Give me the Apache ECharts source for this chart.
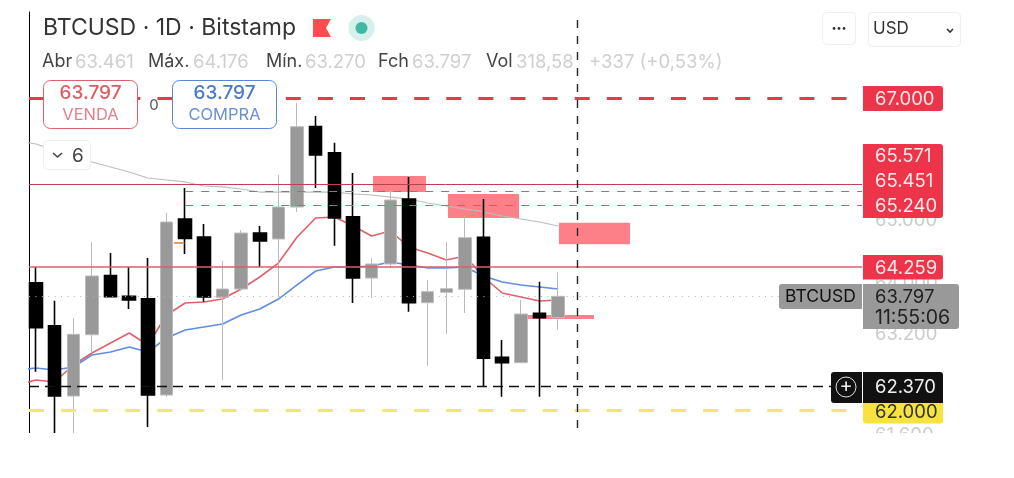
<!DOCTYPE html>
<html>
<head>
<meta charset="utf-8">
<style>
html, body { margin: 0; padding: 0; background: #fff; }
#charts { width: 1014px; height: 478px; }
</style>
<script src="https://cdn.jsdelivr.net/npm/echarts@6/dist/echarts.min.js"></script>
</head>
<body>
<div id="charts"></div>
<script>
var FONT = 'Inter, "Noto Sans", sans-serif';

// candles, one entry per daily bar
var opens  = [64012, 63332, 62221, 63190, 64123, 63797, 63759, 62237, 65019, 64734, 63781, 63912, 64797, 64703, 65208, 66478, 66067, 65055, 64086, 64308, 65335, 63696, 63860, 63908, 64730, 62833, 62748, 63528, 63461];
var closes = [63301, 62221, 63196, 64118, 63791, 63739, 62237, 64971, 64711, 63786, 63912, 64797, 64671, 65208, 66478, 66030, 65035, 64086, 64308, 65319, 63696, 63870, 63917, 64723, 62817, 62748, 63517, 63459, 63797];
var lows   = [62605, 61636, 61636, 62901, 63780, 63596, 61731, 62205, 64466, 63712, 62474, 63881, 64260, 63786, 65129, 65509, 64597, 63691, 63770, 64244, 63554, 62695, 63201, 63533, 62368, 62210, 62748, 62210, 63270];
var highs  = [64260, 63727, 63454, 64655, 64481, 64260, 64402, 65114, 65509, 64940, 64355, 64845, 64908, 65714, 66852, 66647, 66225, 65746, 64402, 65477, 65683, 64055, 64660, 65055, 65335, 63106, 63739, 64028, 64176];

// moving averages, first point is the bar before the visible range
var maGray = [66252, 66204, 66109, 66030, 65920, 65841, 65762, 65667, 65635, 65604, 65540, 65525, 65493, 65445, 65445, 65445, 65445, 65445, 65414, 65398, 65366, 65335, 65272, 65224, 65177, 65129, 65066, 65019, 64971, 64908];
var maRed  = [62395, 62474, 62443, 62711, 62901, 63059, 63217, 63027, 63501, 63691, 63707, 63754, 63912, 64102, 64323, 64734, 65035, 65050, 64908, 64750, 64829, 64576, 64481, 64371, 64434, 64102, 63849, 63786, 63723, 63739];
var maBlue = [62632, 62664, 62632, 62680, 62869, 62917, 62996, 62917, 63138, 63264, 63312, 63359, 63501, 63596, 63754, 63976, 64197, 64260, 64260, 64276, 64339, 64292, 64244, 64244, 64260, 64118, 64023, 63976, 63944, 63912];

// price levels
var level67000 = 66931;
var levelSolid = [65571, 64259];
var levelDashed = [65451, 65240];
var levelLast = 63797;
var levelOrder = 62370;
var levelYellow = 62000;
var crossBar = 29;

// pink zones: from bar, to bar, top price, bottom price
var zones = [
    [18.07, 20.91, 65698, 65445],
    [22.09, 25.9, 65414, 65035],
    [28.04, 31.85, 64960, 64619],
    [26.38, 29.92, 63501, 63438]
];

var axisTicks = [61600, 63200, 64000, 65000];

var stats = [
    ['Abr', 42, '63.461', 75],
    ['Máx.', 148, '64.176', 193],
    ['Mín.', 266, '63.270', 305],
    ['Fch', 378, '63.797', 412],
    ['Vol', 486, '318,58', 516]
];
var change = '+337 (+0,53%)';

var charts = echarts.init(document.getElementById('charts'));

function xyData(values, first) {
    var out = [];
    for (var i = 0; i < values.length; i++) {
        out.push([first + i, values[i]]);
    }
    return out;
}

function candleData() {
    var out = [];
    for (var i = 0; i < opens.length; i++) {
        out.push({
            value: [i, opens[i], closes[i], lows[i], highs[i]],
            itemStyle: { borderWidth: closes[i] > opens[i] ? 1 : 1.6 }
        });
    }
    return out;
}

function maSeries(name, values, color, width) {
    return {
        name: name, type: 'line', z: 3, silent: true, symbol: 'none',
        data: xyData(values, -1),
        lineStyle: { color: color, width: width },
        animation: false
    };
}

function levelLine(value, color, width, type) {
    return { yAxis: value, lineStyle: { color: color, width: width, type: type } };
}

function partLine(from, to, value, color, width, type) {
    return [
        { coord: [from, value], lineStyle: { color: color, width: width, type: type } },
        { coord: [to, value] }
    ];
}

function zoneAreas() {
    var out = [];
    for (var i = 0; i < zones.length; i++) {
        out.push([{ coord: [zones[i][0], zones[i][2]] }, { coord: [zones[i][1], zones[i][3]] }]);
    }
    return out;
}

function box(x, y, w, h, fill, stroke, r) {
    return {
        type: 'rect', silent: true, z: 100,
        shape: { x: x, y: y, width: w, height: h, r: r || 0 },
        style: { fill: fill, stroke: stroke || null, lineWidth: stroke ? 1 : 0 }
    };
}

function label(text, x, y, color, size, weight, align) {
    return {
        type: 'text', silent: true, z: 101,
        style: {
            text: text, x: x, y: y, fill: color, align: align || 'left', verticalAlign: 'middle',
            font: (weight || 400) + ' ' + size + 'px ' + FONT
        }
    };
}

function chevron(x, y, w, h, color, width) {
    return {
        type: 'polyline', silent: true, z: 101,
        shape: { points: [[x, y], [x + w / 2, y + h], [x + w, y]] },
        style: { stroke: color, lineWidth: width, fill: null }
    };
}

function buildGraphic() {
    var red = '#ee3448';
    var g = [];
    // hides whatever runs past the bottom of the chart area
    g.push(box(0, 433, 1014, 45, '#fff'));

    g.push(label('BTCUSD · 1D · Bitstamp', 43, 28, '#333', 23));
    g.push({
        type: 'polygon', silent: true, z: 101,
        shape: { points: [[313, 19], [331, 19], [326, 28], [331, 37], [313, 37]] },
        style: { fill: '#ff4d4d' }
    });
    g.push({ type: 'circle', silent: true, z: 100, shape: { cx: 361.5, cy: 28, r: 13 }, style: { fill: '#d6f0ec' } });
    g.push({ type: 'circle', silent: true, z: 101, shape: { cx: 361.5, cy: 28, r: 6 }, style: { fill: '#3fb8a5' } });

    for (var i = 0; i < stats.length; i++) {
        g.push(label(stats[i][0], stats[i][1], 62, '#444', 18));
        g.push(label(stats[i][2], stats[i][3], 62, '#cfcfcf', 18.5));
    }
    g.push(label(change, 589, 62, '#cfcfcf', 18.5));

    // trade buttons
    g.push(box(43.5, 80.5, 94, 48, '#fff', '#d9626d', 7));
    g.push(label('63.797', 90.5, 93.5, '#df5a64', 19, 500, 'center'));
    g.push(label('VENDA', 90.5, 115, '#e8808a', 16.5, 400, 'center'));
    g.push(box(172.5, 80.5, 104, 48, '#fff', '#5a86d6', 7));
    g.push(label('63.797', 224.5, 93.5, '#4a78cc', 19, 500, 'center'));
    g.push(label('COMPRA', 224.5, 115, '#6a90d8', 16.5, 400, 'center'));
    g.push(label('0', 154, 105, '#555', 15, 400, 'center'));

    g.push(box(43.5, 140.5, 47, 29, '#fff', '#eeeeee', 4));
    g.push(chevron(53, 153, 9, 4, '#444', 1.6));
    g.push(label('6', 72, 156, '#444', 19));

    g.push(box(822.5, 12.5, 33, 32, '#fff', '#eeeeee', 4));
    g.push(label('•••', 839, 28.5, '#333', 9, 400, 'center'));
    g.push(box(868.5, 12.5, 92, 34, '#fff', '#eeeeee', 4));
    g.push(label('USD', 873, 29, '#333', 17));
    g.push(chevron(947, 29, 6, 3, '#333', 1.6));

    // price tags on the right
    g.push(box(863, 86, 80, 25, red, null, [0, 3, 3, 0]));
    g.push(label('67.000', 875, 99, '#ffe9eb', 18.5));
    g.push(box(863, 144, 80, 74, red, null, [0, 3, 3, 0]));
    g.push(label('65.571', 875, 156, '#ffe9eb', 18.5));
    g.push(label('65.451', 875, 181, '#ffe9eb', 18.5));
    g.push(label('65.240', 875, 206, '#ffe9eb', 18.5));
    g.push(box(863, 255, 80, 24.5, red, null, [0, 3, 3, 0]));
    g.push(label('64.259', 875, 268, '#ffe9eb', 18.5));

    g.push(box(779, 284, 83, 25, '#999', null, [3, 0, 0, 3]));
    g.push(label('BTCUSD', 785, 297, '#111', 17.5));
    g.push(box(863, 284, 96, 45, '#999', null, [0, 3, 3, 0]));
    g.push(label('63.797', 875, 297, '#222', 18.5));
    g.push(label('11:55:06', 875, 318, '#222', 19.5));

    g.push(box(831, 372, 31, 31, '#111', null, [3, 0, 0, 3]));
    g.push({ type: 'circle', silent: true, z: 101, shape: { cx: 846, cy: 387, r: 10 }, style: { fill: null, stroke: '#ddd', lineWidth: 1 } });
    g.push(label('+', 846, 386, '#eee', 20, 400, 'center'));
    g.push(box(863, 403, 80, 20.5, '#f7e23f', null, [0, 0, 3, 3]));
    g.push(label('62.000', 875, 412, '#333', 18.5));
    g.push(box(863, 372, 80, 31, '#111', null, [0, 3, 0, 0]));
    g.push(label('62.370', 875, 387.5, '#eee', 18.5));
    return g;
}

var option = {
    backgroundColor: '#fff',
    animation: false,
    grid: { left: 29, right: 152, top: 12, bottom: 33, containLabel: false },
    xAxis: { type: 'value', min: -0.375, max: 44.29, show: false },
    yAxis: [
        {
            type: 'value', min: 61446.8, max: 68290.4, position: 'left', scale: true,
            axisLine: { show: true, onZero: false, lineStyle: { color: '#000', width: 1 } },
            axisTick: { show: false }, axisLabel: { show: false }, splitLine: { show: false }
        },
        {
            type: 'value', min: 61446.8, max: 68290.4, position: 'right', scale: true,
            axisLine: { show: false }, axisTick: { show: false }, splitLine: { show: false },
            axisLabel: {
                customValues: axisTicks, margin: 13, color: '#cccccc',
                fontFamily: FONT, fontSize: 18.5,
                formatter: function (v) { return (v / 1000).toFixed(3); }
            }
        }
    ],
    graphic: { elements: buildGraphic() },
    series: [
        {
            name: 'zones', type: 'line', z: 1, silent: true, symbol: 'none', data: [],
            markArea: { silent: true, itemStyle: { color: '#fd8089', opacity: 1 }, data: zoneAreas(), animation: false }
        },
        {
            name: 'levels', type: 'line', z: 2, silent: true, symbol: 'none', data: [],
            markLine: {
                silent: true, symbol: 'none', label: { show: false }, animation: false,
                data: [
                    levelLine(level67000, '#e23b4b', 3, [15, 17.1]),
                    levelLine(levelYellow, '#f3e66a', 3, [15, 17.1]),
                    levelLine(levelSolid[0], '#bf4150', 1, 'solid'),
                    levelLine(levelSolid[1], '#d9606c', 1.5, 'solid'),
                    levelLine(levelLast, '#b0b0b0', 1, [1, 5.4]),
                    partLine(8, 44.29, levelDashed[0], '#c2606e', 1, [8, 8]),
                    partLine(8, 44.29, levelDashed[1], '#c2606e', 1, [8, 8]),
                    partLine(7.4, 7.95, 64639, '#e0a060', 2, 'solid')
                ]
            }
        },
        maSeries('ma long', maGray, '#bdbdbd', 1.2),
        maSeries('ma fast', maRed, '#e2606c', 1.6),
        maSeries('ma slow', maBlue, '#5f8de0', 1.6),
        {
            name: 'BTCUSD', type: 'candlestick', z: 4, silent: true, barWidth: 13,
            encode: { x: 0, y: [1, 2, 3, 4] },
            data: candleData(),
            itemStyle: { color: '#999999', color0: '#000000', borderColor: '#bcbcbc', borderColor0: '#000000' },
            animation: false
        },
        {
            name: 'cross', type: 'line', z: 5, silent: true, symbol: 'none', data: [],
            markLine: {
                silent: true, symbol: 'none', label: { show: false }, animation: false,
                data: [
                    levelLine(levelOrder, '#111', 1.4, [10, 6]),
                    [
                        { coord: [crossBar, 68164], lineStyle: { color: '#222', width: 1.4, type: [8, 8] } },
                        { coord: [crossBar, 61446.8] }
                    ]
                ]
            }
        }
    ]
};
charts.setOption(option);
</script>
</body>
</html>
